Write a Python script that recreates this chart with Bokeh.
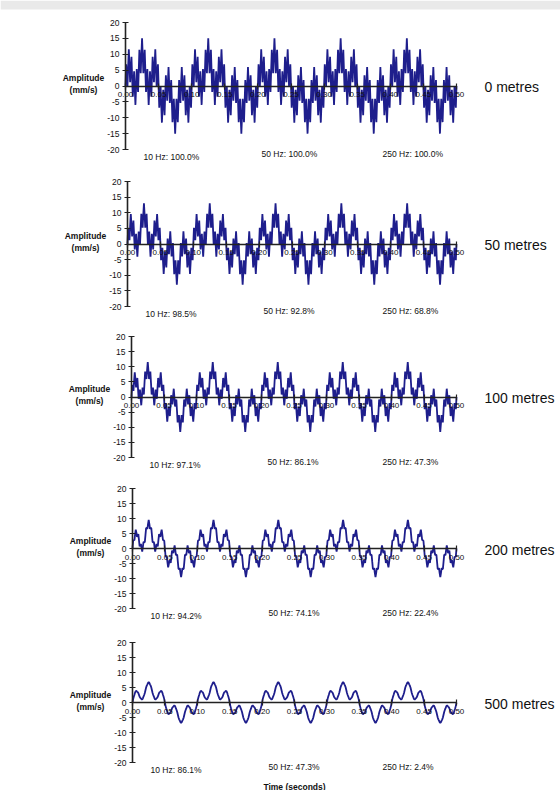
import numpy as np
from bokeh.plotting import figure
from bokeh.layouts import column
from bokeh.models import LinearAxis, FixedTicker, NumeralTickFormatter, Range1d
from bokeh.core.properties import value
from bokeh.embed import file_html
from bokeh.resources import INLINE

# ---------------- data ----------------
distance_labels = ["0 metres", "50 metres", "100 metres", "200 metres", "500 metres"]
frequencies = [10, 50, 250]                 # Hz
base_amplitude = 5.0                        # mm/s per component at source
pct_10hz = [100.0, 98.5, 97.1, 94.2, 86.1]
pct_50hz = [100.0, 92.8, 86.1, 74.1, 47.3]
pct_250hz = [100.0, 68.8, 47.3, 22.4, 2.4]
sample_step = 0.001                         # s
duration = 0.5                              # s
x_ticks = [0.00, 0.05, 0.10, 0.15, 0.20, 0.25, 0.30, 0.35, 0.40, 0.45, 0.50]
y_ticks = [-20, -15, -10, -5, 0, 5, 10, 15, 20]

# ---------------- layout (page pixels) ----------------
W = 560
FIG_TOP = [0, 160, 318, 474, 630]
FIG_H = [160, 158, 156, 156, 160]
FRAME_TOP = [22, 181, 336, 488, 642]
FRAME_BOT = [149, 306, 457, 608, 762]
AXIS_X = [125, 127, 131, 132, 132]
RIGHT_X = 456

FONT = "Liberation Sans"
LINE_COLOR = "#1e1e8c"

t = np.arange(0, duration + sample_step / 2, sample_step)

figs = []
for i in range(5):
    pcts = [pct_10hz[i], pct_50hz[i], pct_250hz[i]]
    sig = np.zeros_like(t)
    for f, pc in zip(frequencies, pcts):
        sig += base_amplitude * pc / 100.0 * np.sin(2 * np.pi * f * t)

    H = FIG_H[i]
    top = FRAME_TOP[i] - FIG_TOP[i]
    bot = FRAME_BOT[i] - FIG_TOP[i]
    x0 = AXIS_X[i]
    pyu = (bot - top) / 40.0
    pxu = (RIGHT_X - x0) / duration
    zero_pg = (FRAME_TOP[i] + FRAME_BOT[i]) / 2.0
    y_end = 20 + top / pyu
    y_start = -20 - (H - bot) / pyu
    x_start = -x0 / pxu
    x_end = (W - x0) / pxu

    def dx(px):
        return (px - x0) / pxu

    def dy(py):
        return (zero_pg - py) / pyu

    p = figure(width=W, height=H, output_backend="svg", toolbar_location=None,
               x_range=Range1d(x_start, x_end), y_range=Range1d(y_start, y_end),
               x_axis_location=None, y_axis_location=None,
               min_border=0, min_border_left=0, min_border_right=0,
               min_border_top=0, min_border_bottom=0)
    p.outline_line_color = None
    p.xgrid.visible = False
    p.ygrid.visible = False
    p.background_fill_color = "white"
    p.border_fill_color = "white"

    if i == 0:
        # faint grey band of the scanned page at the very top
        p.quad(left=[dx(0)], right=[dx(W)], top=[dy(0)], bottom=[dy(9)],
               fill_color="#e9e9e9", line_color=None)

    p.line(t, sig, line_color=LINE_COLOR, line_width=1.8)

    xa = LinearAxis(fixed_location=0, bounds=(0, duration),
                    ticker=FixedTicker(ticks=x_ticks),
                    formatter=NumeralTickFormatter(format="0.00"))
    ya = LinearAxis(fixed_location=0, bounds=(-20, 20),
                    ticker=FixedTicker(ticks=y_ticks),
                    formatter=NumeralTickFormatter(format="0"))
    for ax in (xa, ya):
        ax.axis_line_color = "#222222"
        ax.axis_line_width = 1.6
        ax.major_tick_line_color = "#222222"
        ax.major_tick_line_width = 1.2
        ax.major_tick_in = 3
        ax.major_tick_out = 3
        ax.minor_tick_line_color = None
        ax.major_label_text_font = FONT
        ax.major_label_text_color = "#111111"
        ax.major_label_standoff = 3
    xa.major_label_text_font_size = "8px"
    ya.major_label_text_font_size = "8.5px"
    p.add_layout(xa, "below")
    p.add_layout(ya, "left")

    # y-axis title
    p.text(x=[dx(x0 - 42), dx(x0 - 42)], y=[dy(zero_pg - 8), dy(zero_pg + 4)],
           text=["Amplitude", "(mm/s)"], text_font=value(FONT),
           text_font_size="8.5px", text_font_style="bold", text_color="#111111",
           text_align="center", text_baseline="middle")
    # distance label
    p.text(x=[dx(484)], y=[dy(zero_pg + 1)], text=[distance_labels[i]],
           text_font=value(FONT), text_font_size="14px", text_color="#111111",
           text_align="left", text_baseline="middle")
    # component annotations
    bpg = FRAME_BOT[i]
    ann = [f"{f} Hz: {pc:.1f}%" for f, pc in zip(frequencies, pcts)]
    p.text(x=[dx(x0 + 18), dx(x0 + 136), dx(382)],
           y=[dy(bpg + 7), dy(bpg + 4), dy(bpg + 4)],
           text=ann, text_font=value(FONT), text_font_size="8.5px",
           text_color="#111111", text_align="left", text_baseline="middle")
    if i == 4:
        p.text(x=[dx(294)], y=[dy(786)], text=["Time (seconds)"],
               text_font=value(FONT), text_font_size="8.5px", text_font_style="bold",
               text_color="#111111", text_align="center", text_baseline="middle")
    figs.append(p)

layout = column(*figs, spacing=0)
open("out.html", "w").write(file_html(layout, INLINE))
